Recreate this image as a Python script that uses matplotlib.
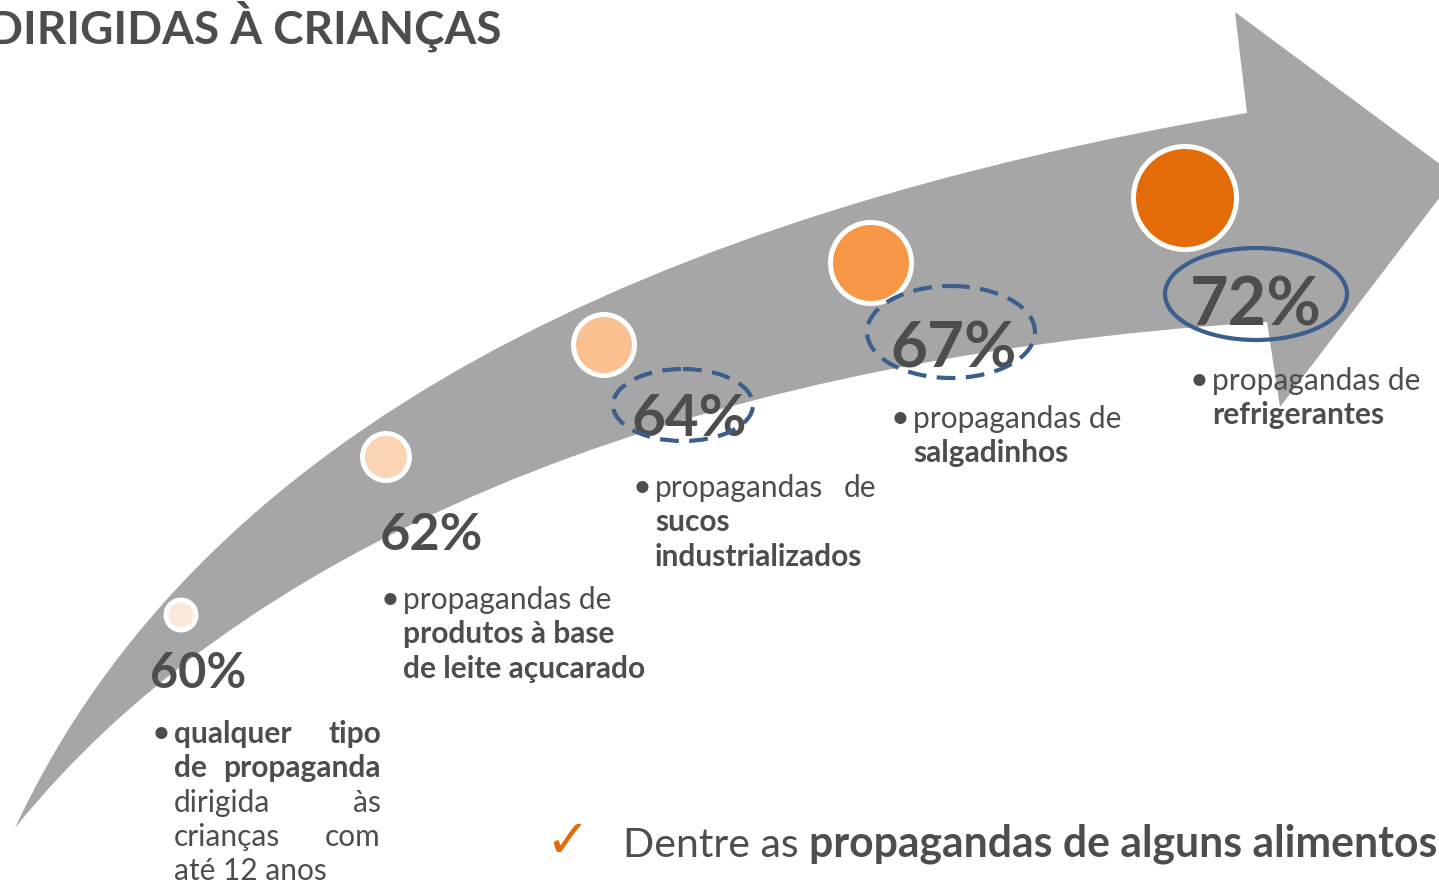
import matplotlib
matplotlib.use("Agg")
import matplotlib.pyplot as plt
from matplotlib.path import Path
from matplotlib.patches import PathPatch, Circle, Ellipse

plt.rcParams['font.family'] = ['Lato', 'DejaVu Sans']

W, H = 1439, 883
CINZA_TXT = '#4D4D4D'

# dados
titulo = 'DIRIGIDAS À CRIANÇAS'
percentuais = [60, 62, 64, 67, 72]
cores = ['#FDE9D9', '#FBD4B4', '#FAC090', '#F79646', '#E36C09']
destaque = [None, None, 'dashed', 'dashed', 'solid']

desc_60 = [[('qualquer', 'bold'), ('tipo', 'bold')],
           [('de', 'bold'), ('propaganda', 'bold')],
           [('dirigida', 'normal'), ('às', 'normal')],
           [('crianças', 'normal'), ('com', 'normal')],
           [('até 12 anos', 'normal')]]
desc_62 = [[('propagandas de', 'normal')],
           [('produtos à base', 'bold')],
           [('de leite açucarado', 'bold')]]
desc_64 = [[('propagandas', 'normal'), ('de', 'normal')],
           [('sucos', 'bold')],
           [('industrializados', 'bold')]]
desc_67 = [[('propagandas de', 'normal')],
           [('salgadinhos', 'bold')]]
desc_72 = [[('propagandas de', 'normal')],
           [('refrigerantes', 'bold')]]
descricoes = [desc_60, desc_62, desc_64, desc_67, desc_72]

rodape_normal = 'Dentre as'
rodape_negrito = 'propagandas de alguns alimentos'

# layout (pixels)
circ_x = [181, 386, 604, 871, 1185]
circ_y = [615, 457, 345, 263, 198]
circ_r = [15, 23.5, 30.5, 40.5, 51.5]
pct_x = [150, 380, 632, 890, 1190]
pct_y = [688, 550, 436, 368, 325]
pct_size = [35, 37.5, 42, 46, 48]
elip = [None, None, (683, 405, 140, 72), (951, 332, 168, 92), (1256, 294, 182, 92)]
txt_x = [174, 403, 655, 913, 1212]
txt_dir = [381, None, 876, None, None]
txt_y = [743, 609, 497, 428, 390]
passo = 34.3
tam_txt = 21.5

fig = plt.figure(figsize=(W / 100, H / 100), dpi=100)
ax = fig.add_axes([0, 0, 1, 1])
ax.set_xlim(0, W)
ax.set_ylim(H, 0)
ax.axis('off')

# seta curva
verts = [(15, 828), (200, 430), (650, 215), (1247, 113),
         (1235, 12), (1456, 176), (1280, 407), (1267, 322),
         (650, 360), (230, 560), (15, 828), (15, 828)]
codes = [Path.MOVETO, Path.CURVE4, Path.CURVE4, Path.CURVE4,
         Path.LINETO, Path.LINETO, Path.LINETO, Path.LINETO,
         Path.CURVE4, Path.CURVE4, Path.CURVE4, Path.CLOSEPOLY]
ax.add_patch(PathPatch(Path(verts, codes), facecolor='#A6A6A6', edgecolor='none', zorder=1))

for i, p in enumerate(percentuais):
    ax.add_patch(Circle((circ_x[i], circ_y[i]), circ_r[i], facecolor=cores[i],
                        edgecolor='white', linewidth=3.6, zorder=3))
    ax.text(pct_x[i], pct_y[i], f'{p}%', fontsize=pct_size[i], fontweight='bold',
            color=CINZA_TXT, ha='left', va='baseline', zorder=4)
    if destaque[i]:
        ex, ey, ew, eh = elip[i]
        ls = (0, (4.5, 2.5)) if destaque[i] == 'dashed' else '-'
        ax.add_patch(Ellipse((ex, ey), ew, eh, facecolor='none', edgecolor='#3B5E8C',
                             linewidth=3, linestyle=ls, zorder=5))

    # texto com marcador
    x0 = txt_x[i]
    ax.text(x0 - 22, txt_y[i], '•', fontsize=tam_txt + 2, color=CINZA_TXT,
            ha='left', va='baseline')
    for k, linha in enumerate(descricoes[i]):
        y = txt_y[i] + k * passo
        if len(linha) == 2 and txt_dir[i] is not None:
            ax.text(x0, y, linha[0][0], fontsize=tam_txt, fontweight=linha[0][1],
                    color=CINZA_TXT, ha='left', va='baseline')
            ax.text(txt_dir[i], y, linha[1][0], fontsize=tam_txt, fontweight=linha[1][1],
                    color=CINZA_TXT, ha='right', va='baseline')
        else:
            ax.text(x0, y, ' '.join(w for w, _ in linha), fontsize=tam_txt,
                    fontweight=linha[0][1], color=CINZA_TXT, ha='left', va='baseline')

# título (cortado à esquerda como no original)
ax.text(-12, 43, titulo, fontsize=33, fontweight='bold', color=CINZA_TXT,
        ha='left', va='baseline')

# rodapé
ax.text(545, 857, '\u2713', fontsize=38, fontweight='bold', color='#E36C09',
        family=['DejaVu Sans'], ha='left', va='baseline')
t1 = ax.text(623, 857, rodape_normal, fontsize=29.5, color=CINZA_TXT,
             ha='left', va='baseline')
ax.annotate(rodape_negrito, xy=(1, 0), xycoords=t1, xytext=(7.5, 0),
            textcoords='offset points', fontsize=30.8, fontweight='bold',
            color=CINZA_TXT, ha='left', va='bottom')

fig.savefig('out.png', dpi=100)
